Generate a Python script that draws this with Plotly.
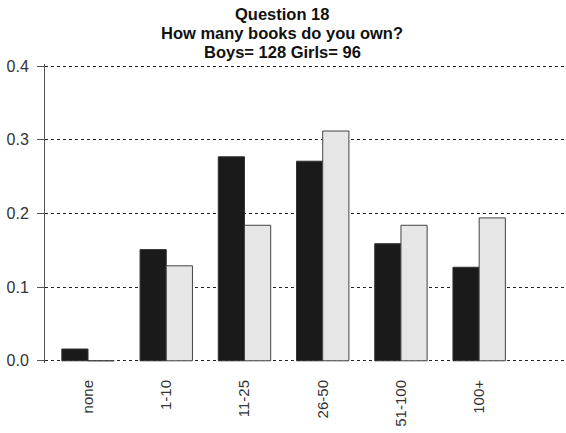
import plotly.graph_objects as go

categories = ["none", "1-10", "11-25", "26-50", "51-100", "100+"]
boys = [0.016, 0.151, 0.277, 0.271, 0.159, 0.127]
girls = [0.0, 0.129, 0.184, 0.312, 0.184, 0.194]
yticks = [0.0, 0.1, 0.2, 0.3, 0.4]
ytick_text = ["0.0", "0.1", "0.2", "0.3", "0.4"]
title_lines = ["Question 18", "How many books do you own?", "Boys= 128 Girls= 96"]

fig = go.Figure()
fig.add_trace(go.Bar(x=list(range(len(categories))), y=boys, name="Boys",
                     marker=dict(color="#1a1a1a", line=dict(color="#333333", width=1))))
fig.add_trace(go.Bar(x=list(range(len(categories))), y=girls, name="Girls",
                     marker=dict(color="#e6e6e6", line=dict(color="#444444", width=1))))

W, HT = 566, 433
L, T, B = 45, 64, 70
H = HT - T - B
ymin, ymax = -0.003, 0.403
def ypaper(px):
    return (HT - B - px) / H

line_px = [14, 33, 52]
for txt, py in zip(title_lines, line_px):
    fig.add_annotation(text="<b>%s</b>" % txt, xref="paper", yref="paper",
                       x=(282 - L) / float(W - L), y=ypaper(py),
                       xanchor="center", yanchor="middle", showarrow=False,
                       font=dict(size=16.5, color="#111111"))

fig.update_layout(
    width=W, height=HT,
    margin=dict(l=L, r=0, t=T, b=B, pad=0),
    paper_bgcolor="white", plot_bgcolor="white",
    barmode="group", bargap=0.33, bargroupgap=0,
    showlegend=False,
    font=dict(family="Liberation Sans, Arial, sans-serif", size=15, color="#333333"),
)
fig.update_xaxes(tickmode="array", tickvals=list(range(len(categories))), ticktext=categories,
                 tickangle=-90, range=[-0.55, 6.11], showgrid=False, zeroline=False,
                 showline=False, ticks="", ticklabelstandoff=13, automargin=False)
fig.update_yaxes(range=[ymin, ymax], tickmode="array", tickvals=yticks, ticktext=ytick_text,
                 showgrid=True, gridcolor="#222222", griddash="dot", gridwidth=1,
                 zeroline=False, showline=True, linecolor="#555555", linewidth=1,
                 ticks="outside", ticklen=7, tickcolor="#555555", tickwidth=1,
                 ticklabelstandoff=5, tickfont=dict(size=16), automargin=False)

# remove the browser's default 8px page margin so the figure fills the window
fig.write_html("out.html", config={"displayModeBar": False},
               post_script="document.body.style.margin='0';")
